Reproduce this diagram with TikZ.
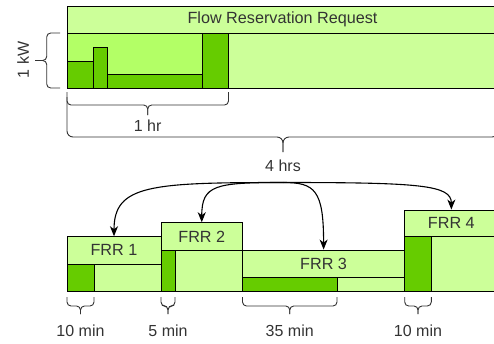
\documentclass[tikz,border=0pt]{standalone}
\usepackage{fontspec}
\setmainfont{Liberation Sans}
\usetikzlibrary{arrows.meta}
\definecolor{frrlight}{HTML}{CCFF99}
\definecolor{frrmid}{HTML}{B3FF66}
\definecolor{frrdark}{HTML}{66CC00}
\definecolor{txtgray}{HTML}{333333}
\tikzset{
  hdr/.style={draw=black, fill=frrlight, inner sep=0pt, text=txtgray, font=\fontsize{16.2}{19}\selectfont},
  bar/.style={draw=black, fill=frrdark},
  brc/.style={draw=txtgray, rounded corners=4pt},
  lbl/.style={text=txtgray, font=\fontsize{16}{19}\selectfont},
  req/.style={-{Stealth[length=10pt,width=8pt,inset=3pt]}, line width=1.1pt},
}

\begin{document}
\begin{tikzpicture}[x=1pt, y=-1pt, line width=0.9pt]
    \clip (0,0) rectangle (494,343);
    % flow reservation request
    \node[hdr, minimum width=431pt, minimum height=27pt] (frr) at (282.5,19.5) {Flow Reservation Request};
    \draw[fill=frrlight] (67,33) rectangle (498,88);
    \draw[fill=frrmid] (67,33) rectangle (228.5,88);
    \draw[bar] (67,61) rectangle (93.3,88);
    \draw[bar] (93.3,47.3) rectangle (107.3,88);
    \draw[bar] (107.3,74.3) rectangle (202,88);
    \draw[bar] (202,33) rectangle (228.5,88);
    % braces of the request
    \draw[brc] (60,33) -| (46.7,60.5) -- (35,60.5);
    \draw[brc] (60,88) -| (46.7,60.5) -- (35,60.5);
    \node[lbl, rotate=90] (kw) at (23,60) {1 kW};
    \draw[brc] (67,92) |- (147.7,105) -- (147.7,115);
    \draw[brc] (228.5,92) |- (147.7,105) -- (147.7,115);
    \node[lbl] (hr) at (147.7,126) {1 hr};
    \draw[brc, rounded corners=6pt] (67,97) |- (283,137) -- (283,152);
    \draw[brc, rounded corners=6pt] (498,97) |- (283,137) -- (283,152);
    \node[lbl] (hrs) at (283,166) {4 hrs};
    \coordinate (src) at (283,182.5);
    % split reservations
    \draw[fill=frrlight] (67,264) rectangle (161,291);
    \draw[bar] (67,264) rectangle (94,291);
    \node[hdr, minimum width=94pt, minimum height=27.3pt] (frr1) at (114,250.35) {FRR 1};
    \draw[fill=frrlight] (161,250.3) rectangle (242.5,291);
    \draw[bar] (161,250.3) rectangle (175,291);
    \node[hdr, minimum width=81.5pt, minimum height=27.6pt] (frr2) at (201.75,236.5) {FRR 2};
    \draw[fill=frrlight] (242.5,277.7) rectangle (404.7,291);
    \draw[bar] (242.5,277.7) rectangle (337,291);
    \node[hdr, minimum width=162.2pt, minimum height=27.7pt] (frr3) at (323.6,263.85) {FRR 3};
    \draw[fill=frrlight] (404.7,236.7) rectangle (498,291);
    \draw[bar] (404.7,236.7) rectangle (431.3,291);
    \node[hdr, minimum width=93.3pt, minimum height=26.7pt] (frr4) at (451.35,223.35) {FRR 4};
    % durations
    \foreach \a/\b/\t [count=\i] in {67/94/10 min, 161/175/5 min, 242.5/337/35 min, 404.7/431.3/10 min}{
      \pgfmathsetmacro\m{(\a+\b)/2}
      \draw[brc] (\a,297) |- (\m,306) -- (\m,314);
      \draw[brc] (\b,297) |- (\m,306) -- (\m,314);
      \node[lbl] (dur\i) at (\m,331) {\t};
    }
    % arrows
    \draw[req] (src) .. controls (150,182.5) and (114,185) .. (frr1.north);
    \draw[req] (src) .. controls (215,182.5) and (201.75,185) .. (frr2.north);
    \draw[req] (src) .. controls (315,182.5) and (323.6,190) .. (frr3.north);
    \draw[req] (src) .. controls (420,182.5) and (451.35,185) .. (frr4.north);
\end{tikzpicture}
\end{document}
